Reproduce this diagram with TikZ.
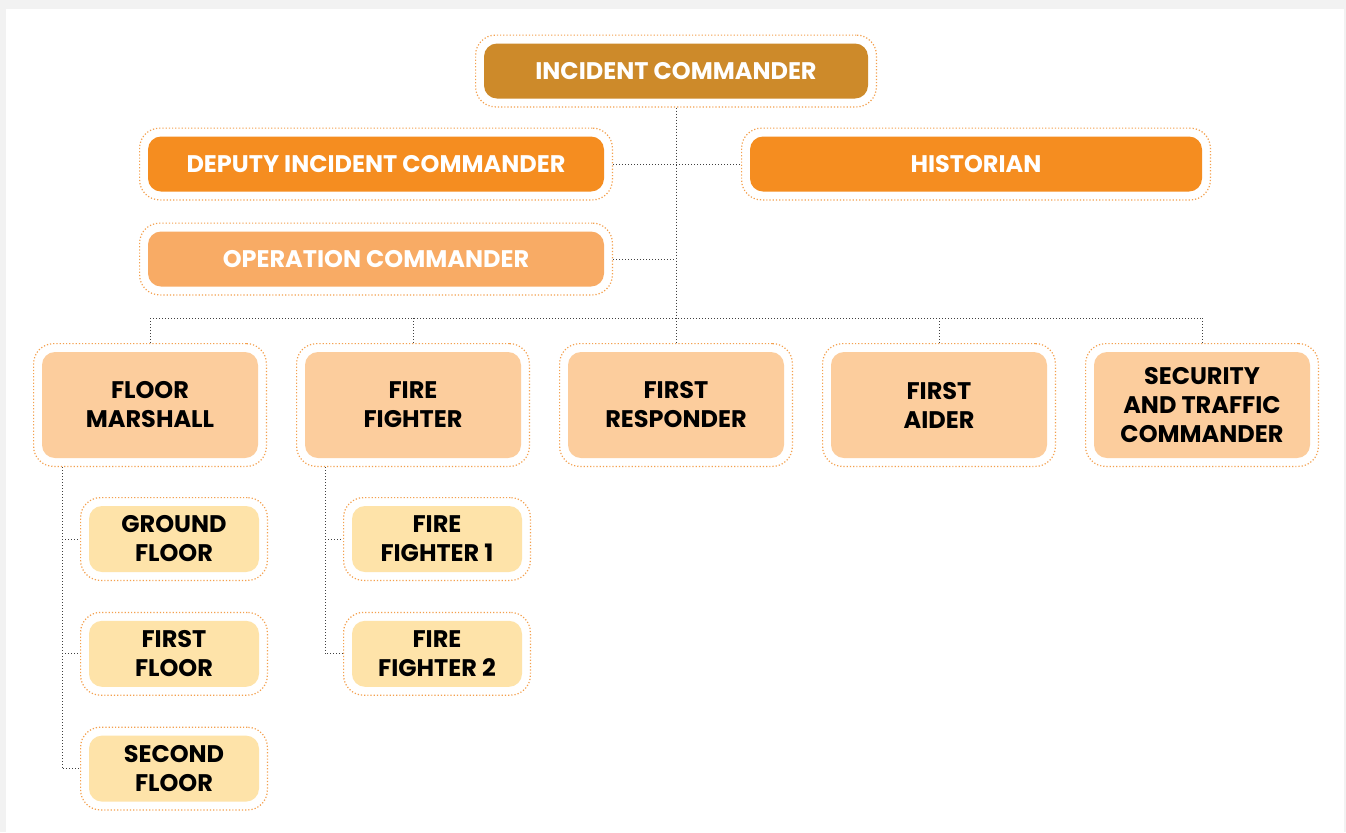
\documentclass[tikz,border=0pt]{standalone}
\usepackage{fontspec}
\setmainfont{Poppins}
\usetikzlibrary{positioning, fit, backgrounds}
\definecolor{icGold}{HTML}{CD8A2A}
\definecolor{deputyOrange}{HTML}{F58D20}
\definecolor{opOrange}{HTML}{F8AB65}
\definecolor{rolePeach}{HTML}{FCCD9D}
\definecolor{subYellow}{HTML}{FEE3A9}
\definecolor{ringOrange}{HTML}{F4A04E}
\tikzset{
	box/.style={
		rounded corners=6.5pt,
		inner sep=0pt,
		align=center,
		font=\bfseries\fontsize{12}{14.5}\selectfont
	},
	head/.style={
		box,
		fill=#1,
		text=white,
		minimum height=27.5pt
	},
	role/.style={
		box,
		fill=rolePeach,
		minimum width=108pt,
		minimum height=53pt
	},
	sub/.style={
		box,
		fill=subYellow,
		minimum width=85pt,
		minimum height=33pt
	},
	ring/.style={
		draw=ringOrange,
		densely dotted,
		line width=0.6pt,
		rounded corners=10pt,
		inner sep=4pt
	},
	link/.style={
		draw=black!75,
		densely dotted,
		line width=0.5pt
	},
}

\begin{document}
\begin{tikzpicture}[x=0.5pt, y=-0.5pt]
	% page
	\useasboundingbox (0,0) rectangle (1346,832);
	\fill [black!5] (0,0) rectangle (1346,832);
	\fill [white] (6,9) rectangle (1344,832);

	% command staff
	\node [head=icGold, minimum width=192pt] (incident) at (676,71) {INCIDENT COMMANDER};
	\node [head=deputyOrange, minimum width=228pt] (deputy) at (376,164) {DEPUTY INCIDENT COMMANDER};
	\node [head=deputyOrange, minimum width=226pt] (historian) at (976,164) {HISTORIAN};
	\node [head=opOrange, minimum width=228pt] (operation) at (376,259) {OPERATION COMMANDER};
	\node [ring, fit=(incident)] (incidentR) {};
	\node [ring, fit=(deputy)] (deputyR) {};
	\node [ring, fit=(historian)] (historianR) {};
	\node [ring, fit=(operation)] (operationR) {};

	% roles
	\node [role] (floorMarshall) at (150,405) {FLOOR\\MARSHALL};
	\node [role, right=23.1pt of floorMarshall] (fireFighter) {FIRE\\FIGHTER};
	\node [role, right=23.1pt of fireFighter] (firstResponder) {FIRST\\RESPONDER};
	\node [role, right=23.1pt of firstResponder] (firstAider) {FIRST\\AIDER};
	\node [role, right=23.1pt of firstAider] (security) {SECURITY\\AND TRAFFIC\\COMMANDER};
	\foreach \n in {floorMarshall, fireFighter, firstResponder, firstAider, security}
		\node [ring, fit=(\n)] (\n R) {};

	% floors
	\node [sub] (groundFloor) at (174,539) {GROUND\\FLOOR};
	\node [sub, below=24pt of groundFloor] (firstFloor) {FIRST\\FLOOR};
	\node [sub, below=24pt of firstFloor] (secondFloor) {SECOND\\FLOOR};
	% fire fighters
	\node [sub] at (437,539) (fighterOne) {FIRE\\FIGHTER 1};
	\node [sub, below=24pt of fighterOne] (fighterTwo) {FIRE\\FIGHTER 2};
	\foreach \n in {groundFloor, firstFloor, secondFloor, fighterOne, fighterTwo}
		\node [ring, fit=(\n)] (\n R) {};

	% command line
	\coordinate (bus) at (676,318);
	\draw [link] (incidentR.south) -- (bus);
	\draw [link] (deputyR.east) -- (historianR.west);
	\draw [link] (operationR.east) -- (operationR.east -| bus);
	\draw [link] (bus -| floorMarshallR.north) -- (bus -| securityR.north);
	\foreach \n in {floorMarshall, fireFighter, firstResponder, firstAider, security}
		\draw [link] (bus -| \n R.north) -- (\n R.north);

	% floor marshall branch
	\draw [link] (floorMarshallR.south west) ++(29,0) coordinate (floorTrunk) |- (secondFloorR.west);
	\draw [link] (floorTrunk |- groundFloorR.west) -- (groundFloorR.west);
	\draw [link] (floorTrunk |- firstFloorR.west) -- (firstFloorR.west);

	% fire fighter branch
	\draw [link] (fireFighterR.south west) ++(29,0) coordinate (fighterTrunk) |- (fighterTwoR.west);
	\draw [link] (fighterTrunk |- fighterOneR.west) -- (fighterOneR.west);
\end{tikzpicture}
\end{document}
